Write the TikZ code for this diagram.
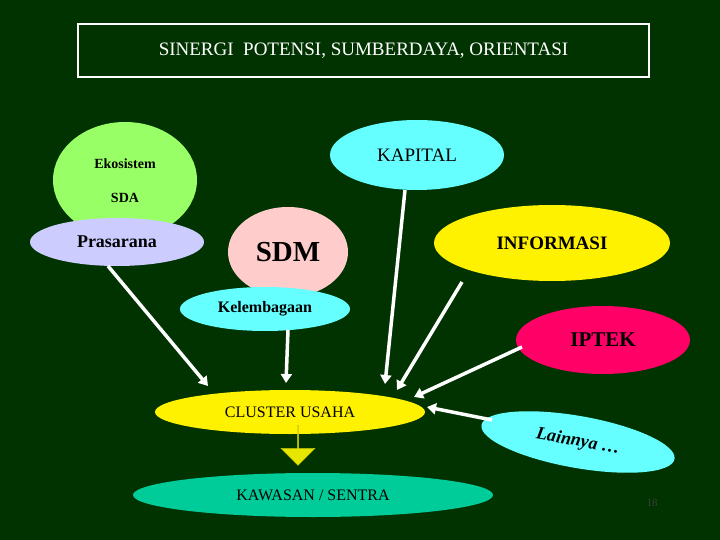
\documentclass[tikz,border=0pt]{standalone}
\usepackage{fontspec}
\setmainfont{Liberation Serif}
\usetikzlibrary{shapes.geometric,shapes.arrows,arrows.meta}
\definecolor{bg}{HTML}{003300}
\tikzset{el/.style={ellipse,inner sep=0pt,draw=none},
 con/.style={white,line width=3.5pt,-{Triangle[length=9pt,width=11pt]}}}
\begin{document}
\begin{tikzpicture}[x=1pt,y=-1pt]
\fill[bg] (0,0) rectangle (720,540);
\useasboundingbox (0,0) rectangle (720,540);
\node[draw=white,line width=2.5pt,minimum width=571pt,minimum height=53pt,text=white,font=\fontsize{19}{22}\selectfont] (title) at (363.5,50.5) {SINERGI\ \ POTENSI, SUMBERDAYA, ORIENTASI};
\node[el,fill={rgb,255:red,153;green,255;blue,102},minimum width=144pt,minimum height=116pt] (eko) at (125,180) {};
\node[font=\bfseries\fontsize{14}{16}\selectfont] (ekot) at (125,164) {Ekosistem};
\node[font=\bfseries\fontsize{14}{16}\selectfont] (sda) at (125,198) {SDA};
\node[el,fill={rgb,255:red,204;green,204;blue,255},minimum width=174pt,minimum height=48pt,font=\bfseries\fontsize{18}{20}\selectfont] (pras) at (117,242) {Prasarana};
\node[el,fill={rgb,255:red,102;green,255;blue,255},minimum width=174pt,minimum height=70pt,font=\fontsize{19}{22}\selectfont] (kap) at (417,155) {KAPITAL};
\node[el,fill={rgb,255:red,255;green,204;blue,204},minimum width=120pt,minimum height=90pt,font=\bfseries\fontsize{29}{32}\selectfont] (sdm) at (288,252) {\raisebox{-8pt}{SDM}};
\node[el,fill=yellow,minimum width=236pt,minimum height=76pt,font=\bfseries\fontsize{19}{22}\selectfont] (inf) at (552,243) {INFORMASI};
\node[el,fill={rgb,255:red,102;green,255;blue,255},minimum width=170pt,minimum height=44pt,font=\bfseries\fontsize{16}{18}\selectfont] (kel) at (265,309) {Kelembagaan};
\node[el,fill={rgb,255:red,255;green,0;blue,102},minimum width=174pt,minimum height=68pt,font=\bfseries\fontsize{21}{24}\selectfont] (ipt) at (603,340) {IPTEK};
\node[el,fill=yellow,minimum width=270pt,minimum height=44pt,font=\fontsize{16}{18}\selectfont] (clu) at (290,412) {CLUSTER USAHA};
\node[el,fill={rgb,255:red,102;green,255;blue,255},minimum width=196pt,minimum height=52pt,rotate=-10,font=\bfseries\itshape\fontsize{18}{20}\selectfont] (lain) at (578,442) {Lainnya \dots};
\node[el,fill={rgb,255:red,0;green,204;blue,153},minimum width=360pt,minimum height=44pt,font=\fontsize{16}{18}\selectfont] (kaw) at (313,495) {KAWASAN / SENTRA};
\node[single arrow,shape border rotate=270,fill={rgb,255:red,230;green,230;blue,0},draw={rgb,255:red,200;green,200;blue,0},minimum height=40pt,minimum width=34pt,single arrow head extend=6pt,inner sep=0pt] (dn) at (298,445) {};
\node[text={rgb,255:red,60;green,60;blue,60},font=\fontsize{11}{12}\selectfont] (pg) at (652,503) {18};
\coordinate (c1) at (108,266); \coordinate (e1) at (208,386);
\coordinate (c2) at (288,330); \coordinate (e2) at (286,383);
\coordinate (c3) at (405,190); \coordinate (e3) at (385,384);
\coordinate (c4) at (462,282); \coordinate (e4) at (397,390);
\coordinate (c5) at (522,347); \coordinate (e5) at (414,397);
\coordinate (c6) at (492,420); \coordinate (e6) at (427,407);
\draw[con] (c1) -- (e1);
\draw[con] (c2) -- (e2);
\draw[con] (c3) -- (e3);
\draw[con] (c4) -- (e4);
\draw[con] (c5) -- (e5);
\draw[con] (c6) -- (e6);
\end{tikzpicture}
\end{document}
